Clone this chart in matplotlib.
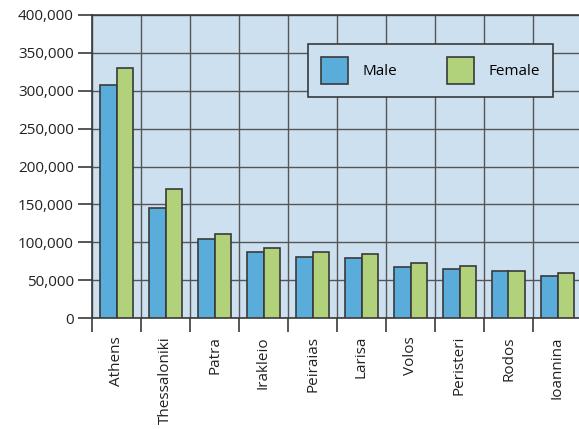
import matplotlib

matplotlib.use("Agg")
import matplotlib.pyplot as plt
import numpy as np
from matplotlib.ticker import FuncFormatter, FixedLocator

plt.rcParams["font.family"] = ["Open Sans", "DejaVu Sans"]

cities = ["Athens", "Thessaloniki", "Patra", "Irakleio", "Peiraias",
          "Larisa", "Volos", "Peristeri", "Rodos", "Ioannina"]
male = [307600, 145200, 103900, 86700, 80500, 79600, 66900, 64700, 62500, 55000]
female = [330000, 170300, 110500, 92000, 87100, 84100, 72200, 68200, 62500, 59000]

MALE_COLOR = "#5aaddb"
FEMALE_COLOR = "#b1d27b"
BG_COLOR = "#cde0ef"
LINE_COLOR = "#3a3a3a"

fig = plt.figure(figsize=(5.79, 4.29), dpi=100)
ax = fig.add_axes([92 / 579, 1 - 318 / 429, 490 / 579, 303 / 429])
ax.set_facecolor(BG_COLOR)

x = np.arange(len(cities))
width = 0.33
ax.bar(x - width / 2, male, width, color=MALE_COLOR, edgecolor=LINE_COLOR, linewidth=1.2, label="Male", zorder=3)
ax.bar(x + width / 2, female, width, color=FEMALE_COLOR, edgecolor=LINE_COLOR, linewidth=1.2, label="Female", zorder=3)

ax.set_xlim(-0.5, len(cities) - 0.5)
ax.set_ylim(0, 400000)
ax.set_yticks(np.arange(0, 400001, 50000))
ax.yaxis.set_major_formatter(FuncFormatter(lambda v, _: f"{int(v):,}"))

# category boundaries carry the ticks and vertical grid, labels sit at centres
ax.xaxis.set_major_locator(FixedLocator(np.arange(-0.5, len(cities), 1.0)))
ax.xaxis.set_major_formatter(FuncFormatter(lambda v, _: ""))
ax.set_xticks(x, minor=True)
ax.set_xticklabels(cities, minor=True, rotation=90, va="top", ha="center", fontsize=11, color="#222222")
ax.tick_params(axis="x", which="minor", length=0, pad=13)
ax.tick_params(axis="x", which="major", length=10, width=1.2, color=LINE_COLOR, direction="out")
ax.tick_params(axis="y", length=10, width=1.2, color=LINE_COLOR, labelsize=11, labelcolor="#222222", pad=3)

ax.grid(True, which="major", color="#555555", linewidth=1.0, zorder=0)
ax.set_axisbelow(True)
for name, sp in ax.spines.items():
    sp.set_color(LINE_COLOR)
    sp.set_linewidth(1.2)
ax.spines["right"].set_visible(False)

leg = ax.legend(loc="upper left", bbox_to_anchor=((308 - 92) / 490, 1 - (44 - 15) / 303),
                ncol=2, frameon=True, fancybox=False, fontsize=11, borderaxespad=0,
                handlelength=1.8, handleheight=2.3, columnspacing=3.2, handletextpad=0.95,
                borderpad=0.85)
leg.get_frame().set_facecolor(BG_COLOR)
leg.get_frame().set_edgecolor(LINE_COLOR)
leg.get_frame().set_linewidth(1.2)
leg.get_frame().set_alpha(1.0)
leg.set_zorder(5)

fig.savefig("out.png", dpi=100)
